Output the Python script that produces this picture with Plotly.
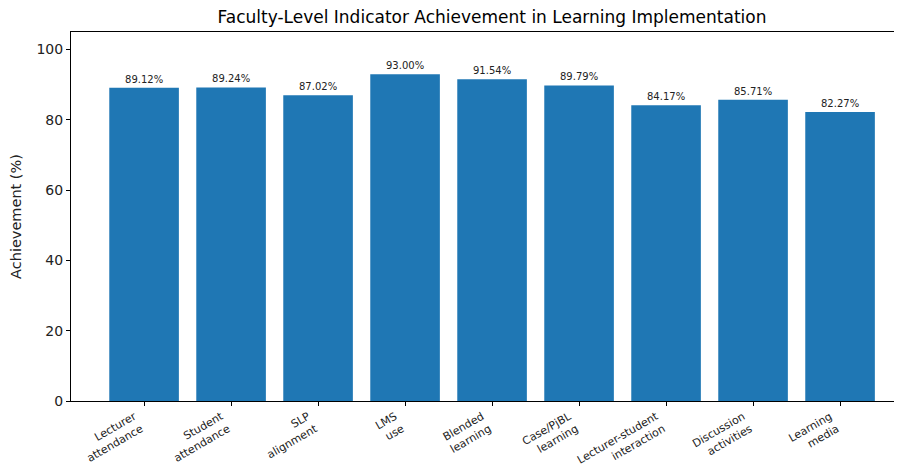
import plotly.graph_objects as go

categories = ["Lecturer<br>attendance", "Student<br>attendance", "SLP<br>alignment", "LMS<br>use",
              "Blended<br>learning", "Case/PjBL<br>learning", "Lecturer-student<br>interaction",
              "Discussion<br>activities", "Learning<br>media"]
values = [89.12, 89.24, 87.02, 93.00, 91.54, 89.79, 84.17, 85.71, 82.27]
labels = [f"{v:.2f}%" for v in values]
yticks = [0, 20, 40, 60, 80, 100]

font = "DejaVu Sans"
W, H = 886, 458
fig = go.Figure(go.Bar(
    x=categories, y=values, width=0.8,
    marker=dict(color="#1f77b4", line=dict(width=0)),
    text=labels, textposition="outside", cliponaxis=False,
    textfont=dict(family=font, size=10, color="#222"),
    constraintext="none",
))
fig.update_layout(
    width=W, height=H,
    margin=dict(l=63, r=0, t=24, b=65),
    paper_bgcolor="white", plot_bgcolor="white",
    font=dict(family=font, color="black"),
    showlegend=False,
    title=dict(text="Faculty-Level Indicator Achievement in Learning Implementation",
               x=484 / W, xanchor="center", y=1 - 9 / H, yanchor="middle",
               font=dict(family=font, size=17, color="black")),
    xaxis=dict(range=[-0.84, 8.62], showline=True, linecolor="black", linewidth=1,
               mirror=True, ticks="outside", ticklen=4, tickcolor="black",
               tickangle=-30, tickfont=dict(family=font, size=11, color="#222"),
               ticklabelshift=-10, automargin=False,
               showgrid=False, zeroline=False),
    yaxis=dict(range=[0, 105], tickvals=yticks, showline=True, linecolor="black",
               linewidth=1, ticks="outside", ticklen=4, tickcolor="black",
               tickfont=dict(family=font, size=14, color="#222"), automargin=False,
               title=dict(text="Achievement (%)", font=dict(family=font, size=14.5, color="#222"), standoff=12),
               showgrid=False, zeroline=False),
    bargap=0.2,
)
fig.write_html("out.html")
